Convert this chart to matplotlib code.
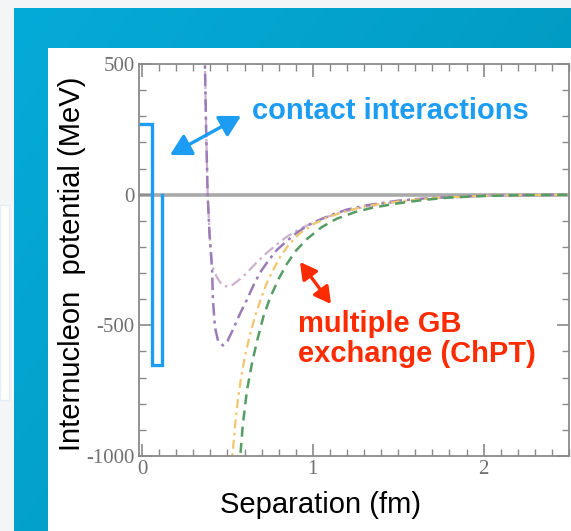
import matplotlib
matplotlib.use("Agg")
import matplotlib.pyplot as plt
import numpy as np
from matplotlib.lines import Line2D
from matplotlib.patches import FancyArrowPatch, Rectangle
from matplotlib.ticker import MultipleLocator

plt.rcParams["axes.unicode_minus"] = False

# potential curves (x in fm, V in MeV)
dark_x = [0.362, 0.368, 0.375, 0.384, 0.395, 0.41, 0.415, 0.427, 0.445, 0.474, 0.50, 0.532, 0.57, 0.614, 0.65, 0.69, 0.74, 0.79, 0.85, 0.906, 0.97, 1.04, 1.12, 1.2, 1.32, 1.5, 1.7, 2.0, 2.2, 2.5]
dark_v = [560, 500, 250, 0, -150, -288, -404, -508, -560, -577, -560, -517, -460, -402, -350, -299, -252, -211, -176, -146, -118, -96, -75, -57, -40, -23, -12, -4, -2, 0]

light_x = [0.362, 0.368, 0.375, 0.384, 0.395, 0.41, 0.425, 0.44, 0.46, 0.48, 0.503, 0.53, 0.57, 0.614, 0.67, 0.731, 0.79, 0.848, 0.92, 1.0, 1.08, 1.16, 1.3, 1.5, 1.7, 2.0, 2.2, 2.5]
light_v = [560, 500, 250, 0, -150, -270, -298, -318, -338, -349, -352, -345, -325, -299, -260, -222, -190, -161, -132, -107, -86, -69, -47, -27, -14, -5, -2, 0]

yellow_x = [0.52, 0.532, 0.545, 0.561, 0.58, 0.602, 0.63, 0.661, 0.695, 0.731, 0.77, 0.807, 0.86, 0.924, 1.0, 1.08, 1.2, 1.32, 1.5, 1.7, 2.0, 2.2, 2.5]
yellow_v = [-1050, -977, -880, -785, -700, -620, -540, -467, -400, -337, -285, -240, -190, -148, -114, -88, -62, -43, -26, -13, -4, -2, 0]

green_x = [0.57, 0.575, 0.59, 0.614, 0.645, 0.678, 0.71, 0.749, 0.80, 0.848, 0.90, 0.965, 1.05, 1.14, 1.25, 1.35, 1.5, 1.65, 1.8, 2.0, 2.2, 2.5]
green_v = [-1050, -1000, -880, -750, -640, -548, -468, -395, -322, -265, -215, -170, -125, -92, -66, -50, -33, -20, -11, -5, -2, 0]

x_ticks = [0, 1, 2]
y_ticks = [-1000, -500, 0, 500]

W, H = 571, 531


def px(x, y):
    # pixel position of the reference -> figure fraction
    return x / W, 1 - y / H


def main() -> None:
    fig = plt.figure(figsize=(W / 100, H / 100), dpi=100)
    fig.patch.set_facecolor("#f4f5f6")

    # slide background: blue frame with gradient, white panel
    bg = fig.add_axes([0, 0, 1, 1], zorder=-5)
    bg.set_xlim(0, W)
    bg.set_ylim(H, 0)
    bg.axis("off")
    gx, gy = np.meshgrid(np.linspace(0, 1, 200), np.linspace(0, 1, 200))
    grad = 0.6 * gx + 0.4 * gy
    cmap = matplotlib.colors.LinearSegmentedColormap.from_list("band", ["#05abd8", "#0093b9"])
    bg.imshow(grad, extent=[14, W, H, 8], cmap=cmap, aspect="auto", zorder=1)
    bg.add_patch(Rectangle((0, 205), 9, 195, facecolor="#ffffff", edgecolor="#e4eef4", lw=1, zorder=1))
    bg.add_patch(Rectangle((48, 48), W - 48, H - 48, facecolor="white", edgecolor="none", zorder=2))

    ax = fig.add_axes([139 / W, 1 - 456 / H, (569 - 139) / W, (456 - 64) / H])
    ax.set_facecolor("none")
    ax.set_xlim(-0.018, 2.5)
    ax.set_ylim(-1000, 500)

    ax.axhline(0, color="#a9a9a9", lw=2.6, zorder=1)
    ax.plot(light_x, light_v, color="#cdb0cf", lw=1.6, dashes=[5, 2, 1.2, 2])
    ax.plot(dark_x, dark_v, color="#9a7cb8", lw=1.8, dashes=[5, 2, 1.2, 2])
    ax.plot(yellow_x, yellow_v, color="#efc66c", lw=1.6, dashes=[4, 2, 1.2, 2])
    ax.plot(green_x, green_v, color="#559e63", lw=1.8, dashes=[4, 2.5])

    for s in ax.spines.values():
        s.set_color("#8a8a8a")
        s.set_linewidth(1.3)
    ax.set_xticks(x_ticks)
    ax.set_yticks(y_ticks)
    ax.xaxis.set_minor_locator(MultipleLocator(0.1))
    ax.yaxis.set_minor_locator(MultipleLocator(100))
    ax.tick_params(which="both", direction="in", top=True, right=True, color="#8a8a8a",
                   labelcolor="#707070", labelsize=15, pad=3)
    ax.tick_params(which="major", length=9, width=1.2)
    ax.tick_params(which="minor", length=5, width=1.0)
    for lab in ax.get_xticklabels() + ax.get_yticklabels():
        lab.set_family("Liberation Serif")

    fig.text(*px(320, 505), "Separation (fm)", fontsize=21, family="Liberation Sans",
             ha="center", va="center")
    fig.text(*px(72, 264), "Internucleon  potential (MeV)", fontsize=21, family="Liberation Sans",
             ha="center", va="center", rotation=90)

    # annotations
    blue = "#1c9cf2"
    red = "#ff2b00"
    bx = [141, 152, 152, 162, 162]
    by = [124, 124, 365, 365, 195]
    fig.add_artist(Line2D([x / W for x in bx], [1 - y / H for y in by], transform=fig.transFigure,
                          color=blue, lw=2.4, zorder=10, solid_joinstyle="miter"))
    fig.text(*px(252, 111), "contact interactions", color=blue, fontsize=21, fontweight="bold",
             family="Liberation Sans", va="center", ha="left")
    fig.text(*px(298, 339), "multiple GB\nexchange (ChPT)", color=red, fontsize=21,
             fontweight="bold", family="Liberation Sans", va="center", ha="left", linespacing=1.12)
    arrow_kw = dict(arrowstyle="<|-|>,head_length=0.9,head_width=0.5", lw=2.4, shrinkA=0, shrinkB=0)
    fig.add_artist(FancyArrowPatch(px(170, 155), px(241, 116), transform=fig.transFigure,
                                   color=blue, mutation_scale=14, zorder=10, **arrow_kw))
    fig.add_artist(FancyArrowPatch(px(300, 262), px(331, 304), transform=fig.transFigure,
                                   color=red, mutation_scale=11, zorder=10, **arrow_kw))

    fig.savefig("out.png", dpi=100)
    plt.close(fig)


if __name__ == "__main__":
    main()
